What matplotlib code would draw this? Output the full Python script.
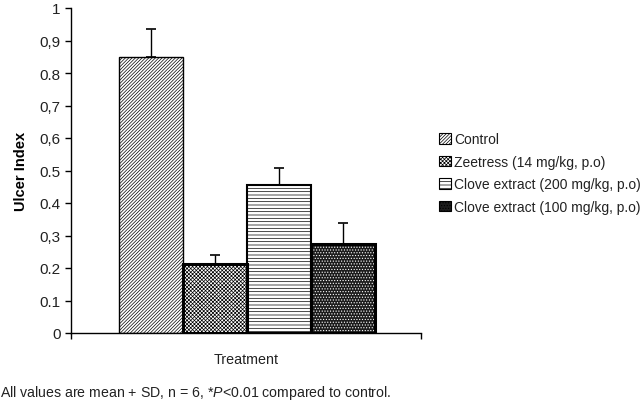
import numpy as np
import matplotlib
matplotlib.use("Agg")
import matplotlib.pyplot as plt
from matplotlib.patches import Patch

plt.rcParams['font.family'] = ['Liberation Sans', 'DejaVu Sans']
plt.rcParams['mathtext.fontset'] = 'custom'
plt.rcParams['mathtext.rm'] = 'Liberation Sans'
plt.rcParams['mathtext.it'] = 'Liberation Sans:italic'
plt.rcParams['hatch.linewidth'] = 0.5

# --------- data --------------------------------------------------------------
groups = ["Control", "Zeetress (14 mg/kg, p.o)",
          "Clove extract (200 mg/kg, p.o)", "Clove extract (100 mg/kg, p.o)"]
means = [0.848, 0.212, 0.456, 0.274]
sds = [0.086, 0.027, 0.052, 0.064]
ytick_vals = [0, 0.1, 0.2, 0.3, 0.4, 0.5, 0.6, 0.7, 0.8, 0.9, 1.0]
ytick_labels = ["0", "0.1", "0.2", "0,3", "0.4", "0.5", "0,6", "0,7", "0.8", "0,9", "1"]
footnote = "All values are mean + SD, n = 6, *$\\it{P}$<0.01 compared to control."

# styles per bar: (facecolor, hatch colour, hatch, outline width)
styles = [("white", "black", "/" * 10, 1.0),
          ("white", "black", "x" * 9, 2.2),
          ("white", "black", "-----", 1.5),
          ("#1c1c1c", "white", "." * 6, 2.2)]

fig = plt.figure(figsize=(6.43, 4.02), dpi=100)
ax = fig.add_axes([71 / 643, 1 - 334 / 402, 350 / 643, 325 / 402])

x = np.arange(len(means))
ax.errorbar(x, means, yerr=[[0] * len(sds), sds], fmt="none", ecolor="black",
            elinewidth=1.0, capsize=3.6, capthick=1.2, zorder=1)

handles = []
for xi, m, (fc, hc, h, lw), g in zip(x, means, styles, groups):
    ax.bar(xi, m, width=1.0, color=fc, edgecolor=hc, hatch=h, linewidth=0, zorder=2)
    ax.bar(xi, m, width=1.0, fill=False, edgecolor="black", linewidth=lw, zorder=3)
    handles.append(Patch(facecolor=fc, edgecolor=hc, hatch=h, linewidth=0.8, label=g))

ax.set_xlim(-1.25, 4.22)
ax.set_ylim(0, 1.0)
ax.set_yticks(ytick_vals)
ax.set_yticklabels(ytick_labels, fontsize=11, color="#222222")
ax.set_xticks([-1.25, 4.22])
ax.set_xticklabels([])
ax.tick_params(axis="both", direction="out", length=4, width=1, color="black")
for s in ["top", "right"]:
    ax.spines[s].set_visible(False)
for s in ["left", "bottom"]:
    ax.spines[s].set_linewidth(1.0)
ax.set_ylabel("Ulcer Index", fontsize=10.5, fontweight="bold", labelpad=8)
ax.set_xlabel("Treatment", fontsize=10.3, labelpad=6, color="#222222")

leg = fig.legend(handles=handles, loc="center left",
                 bbox_to_anchor=(427 / 643, 1 - 174 / 402), frameon=False,
                 fontsize=10, handlelength=0.8, handleheight=0.8,
                 handletextpad=0.25, labelspacing=0.62)
for p in leg.get_patches():
    p.set_edgecolor("black")
for t in leg.get_texts():
    t.set_color("#222222")

fig.text(0.0, 1 - 393 / 402, footnote, fontsize=10.2, va="center", ha="left", color="#222222")

fig.savefig("out.png", dpi=100)
